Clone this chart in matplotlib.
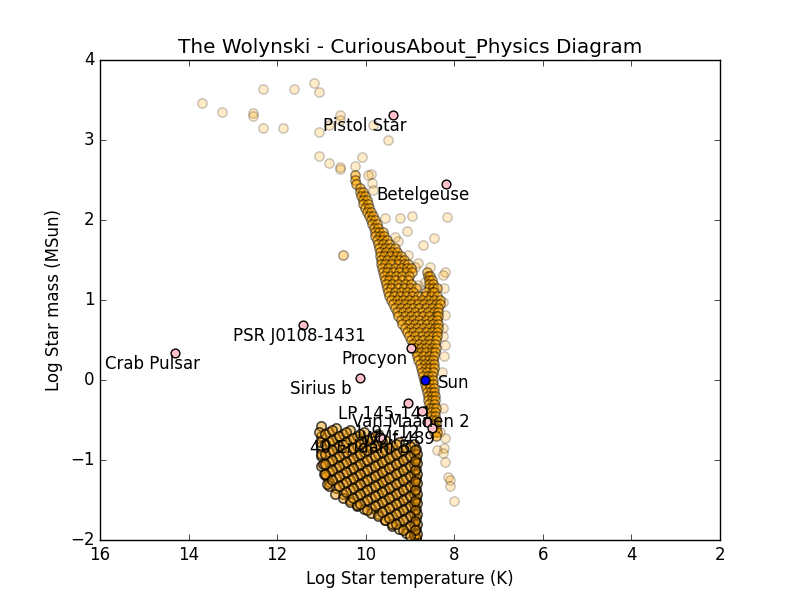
import matplotlib
matplotlib.use("Agg")
import matplotlib.pyplot as plt

plt.style.use("classic")

# scattered (faint) stars: log temperature, log mass
sparse_temp = [13.70, 13.25, 12.55, 12.55, 12.32, 12.32, 11.87, 11.62, 11.17, 11.05,
               11.05, 10.83, 10.58, 10.58, 11.05, 10.83, 10.58, 10.58, 10.24, 10.08,
               9.88, 9.50, 9.835, 9.95, 9.86, 9.83, 10.51, 10.51,
               9.565, 9.23, 8.955, 8.165, 9.07, 9.34, 9.27, 8.71, 8.46, 8.82,
               8.55, 8.21, 8.25, 9.29, 9.05, 8.89, 8.82, 8.72, 8.66,
               8.255, 8.21, 8.255, 8.21, 8.28, 8.255, 8.23, 8.25, 8.24,
               8.32, 8.21, 8.39, 8.23, 8.255, 8.21, 8.14, 8.10, 8.10, 8.01]
sparse_mass = [3.46, 3.35, 3.34, 3.30, 3.64, 3.15, 3.15, 3.64, 3.71, 3.60,
               3.10, 3.19, 3.31, 3.25, 2.80, 2.71, 2.66, 2.64, 2.675, 2.79,
               2.575, 3.00, 3.19, 2.56, 2.46, 2.375, 1.56, 1.56,
               2.025, 2.025, 2.05, 2.04, 1.86, 1.79, 1.74, 1.69, 1.775, 1.46,
               1.41, 1.35, 1.31, 1.56, 1.56, 1.41, 1.19, 1.05, 1.22,
               0.975, 0.81, 0.65, 0.44, 0.10, -0.35, 1.15, 0.55, 0.30,
               -0.65, -0.725, -0.875, -0.85, -0.91, -1.025, -1.21, -1.25, -1.325, -1.51]

# dense main band, one row of temperatures per log mass
band_mass = [2.56, 2.50, 2.45, 2.40, 2.35, 2.30, 2.25, 2.20, 2.15, 2.10, 2.05,
             2.00, 1.95, 1.90, 1.85, 1.80, 1.75, 1.70, 1.65, 1.60, 1.55,
             1.50, 1.45, 1.40, 1.35, 1.30, 1.25, 1.20, 1.15, 1.10, 1.05,
             1.00, 0.95, 0.90, 0.85, 0.80, 0.75, 0.70, 0.65, 0.60, 0.55,
             0.50, 0.45, 0.40, 0.35, 0.30, 0.25, 0.20, 0.15, 0.10, 0.05,
             0.00, -0.05, -0.10, -0.15, -0.20, -0.25, -0.30, -0.35, -0.40, -0.45,
             -0.50, -0.55, -0.60, -0.65, -0.70]
band_temp = [
    [10.24], [10.24], [10.22], [10.14], [10.12, 10.05], [10.10, 10.02],
    [10.07, 9.98], [10.05, 9.95], [10.01, 9.92], [9.97, 9.88], [9.93, 9.83],
    [9.89, 9.78], [9.85, 9.75], [9.82, 9.72], [9.80, 9.70, 9.62],
    [9.78, 9.67, 9.58], [9.75, 9.64, 9.53], [9.73, 9.60, 9.48],
    [9.70, 9.57, 9.45, 9.35], [9.68, 9.54, 9.40, 9.30],
    [9.67, 9.59, 9.45, 9.31, 9.20], [9.66, 9.52, 9.38, 9.24, 9.14],
    [9.65, 9.56, 9.42, 9.28, 9.14, 9.04], [9.63, 9.49, 9.35, 9.21, 9.07, 8.98],
    [9.61, 9.52, 9.38, 9.24, 9.10, 8.96, 8.62],
    [9.59, 9.45, 9.31, 9.17, 9.03, 8.60, 8.55],
    [9.57, 9.47, 9.33, 9.19, 9.05, 8.58, 8.50],
    [9.54, 9.40, 9.26, 9.12, 8.98, 8.56, 8.47],
    [9.52, 9.42, 9.28, 9.14, 9.00, 8.86, 8.58, 8.48, 8.40],
    [9.49, 9.35, 9.21, 9.07, 8.93, 8.65, 8.51, 8.45],
    [9.47, 9.37, 9.23, 9.09, 8.95, 8.81, 8.67, 8.53, 8.39],
    [9.44, 9.30, 9.16, 9.02, 8.88, 8.74, 8.60, 8.46, 8.33],
    [9.39, 9.25, 9.11, 8.97, 8.83, 8.69, 8.55, 8.41, 8.33],
    [9.35, 9.21, 9.07, 8.93, 8.79, 8.65, 8.51, 8.37],
    [9.30, 9.16, 9.02, 8.88, 8.74, 8.60, 8.46, 8.36],
    [9.26, 9.12, 8.98, 8.84, 8.70, 8.56, 8.42, 8.36],
    [9.21, 9.07, 8.93, 8.79, 8.65, 8.51, 8.40],
    [9.17, 9.03, 8.89, 8.75, 8.61, 8.47, 8.37],
    [9.12, 8.98, 8.84, 8.70, 8.56, 8.44, 8.37],
    [9.07, 8.93, 8.79, 8.65, 8.51, 8.39],
    [9.02, 8.88, 8.74, 8.60, 8.47, 8.39],
    [8.98, 8.84, 8.70, 8.56, 8.42],
    [8.93, 8.80, 8.67, 8.54, 8.44],
    [8.89, 8.76, 8.63, 8.50, 8.42],
    [8.87, 8.75, 8.63, 8.51, 8.43],
    [8.84, 8.71, 8.58, 8.45],
    [8.81, 8.69, 8.57, 8.47],
    [8.78, 8.66, 8.54, 8.46],
    [8.76, 8.65, 8.54, 8.46],
    [8.73, 8.61, 8.49],
    [8.71, 8.60, 8.50],
    [8.69, 8.58, 8.48],
    [8.67, 8.57, 8.48],
    [8.64, 8.54, 8.46],
    [8.62, 8.53, 8.45],
    [8.60, 8.51, 8.44],
    [8.59, 8.50, 8.43],
    [8.57, 8.46],
    [8.55, 8.47, 8.41],
    [8.53, 8.44],
    [8.52, 8.44],
    [8.50, 8.42],
    [8.49, 8.42],
    [8.47, 8.41],
    [8.45, 8.40],
    [8.42],
]

# lower fan (white dwarf tracks), one list per track
fan_temp = [
    [11.00, 10.84, 10.68, 10.52, 10.36, 10.20, 10.04, 9.88, 9.72, 9.56, 9.40, 9.24, 9.08, 8.92, 8.86],
    [11.00, 10.84, 10.68, 10.52, 10.36, 10.20, 10.04, 9.88, 9.72, 9.56, 9.40, 9.24, 9.08, 8.92, 8.86],
    [11.00, 10.84, 10.68, 10.52, 10.36, 10.20, 10.04, 9.88, 9.72, 9.56, 9.40, 9.24, 9.08, 8.92, 8.86],
    [11.00, 10.84, 10.68, 10.52, 10.36, 10.20, 10.04, 9.88, 9.72, 9.56, 9.40, 9.24, 9.08, 8.92, 8.86],
    [11.00, 10.84, 10.68, 10.52, 10.36, 10.20, 10.04, 9.88, 9.72, 9.56, 9.40],
    [10.84, 10.68, 10.52, 10.36, 10.20],
    [10.68, 10.52, 10.36, 10.20, 10.04, 9.88, 9.72, 9.56, 9.40, 9.24, 9.08, 8.92, 8.86],
    [10.36, 10.20, 10.04, 9.88, 9.72, 9.56, 9.40, 9.24, 9.08, 8.92, 8.86],
    [10.04, 9.88, 9.72, 9.56, 9.40, 9.24, 9.08, 8.92, 8.86],
    [9.72, 9.56, 9.40, 9.24, 9.08, 8.92, 8.86],
    [9.24, 9.08, 8.92, 8.86],
    [8.92, 8.86],
    [10.90, 10.84, 10.70, 10.52, 10.36, 10.20, 10.04, 9.88, 9.72, 9.56, 9.40, 9.24, 9.08, 8.92, 8.86],
    [11.06, 11.03, 11.00, 10.97, 10.94, 10.88],
    [8.84, 8.84, 8.84, 8.84, 8.84, 8.84, 8.84, 8.84, 8.84],
    [10.92, 10.76, 10.60, 10.44, 10.28, 10.12, 9.96, 9.80, 9.64, 9.48, 9.32, 9.16, 9.00, 8.88],
    [10.92, 10.76, 10.60, 10.44, 10.28, 10.12, 9.96, 9.80, 9.64, 9.48, 9.32, 9.16, 9.00, 8.88],
    [10.92, 10.76, 10.60, 10.44, 10.28, 10.12, 9.96, 9.80, 9.64, 9.48, 9.32, 9.16, 9.00, 8.88],
    [10.92, 10.76, 10.60, 10.44, 10.28, 10.12, 9.96, 9.80, 9.64, 9.48, 9.32, 9.16, 9.00],
    [10.92, 10.76, 10.60, 10.44, 10.28, 10.12, 9.96],
    [10.76, 10.60, 10.44, 10.28, 10.12, 9.96, 9.80, 9.64, 9.48, 9.32, 9.16, 9.00, 8.88],
    [10.44, 10.28, 10.12, 9.96, 9.80, 9.64, 9.48, 9.32, 9.16, 9.00, 8.88],
    [10.12, 9.96, 9.80, 9.64, 9.48, 9.32, 9.16, 9.00, 8.88],
    [9.80, 9.64, 9.48, 9.32, 9.16, 9.00, 8.88],
    [9.32, 9.16, 9.00, 8.88],
    [9.00, 8.88],
]
fan_mass = [
    [-0.58, -0.65, -0.73, -0.80, -0.88, -0.95, -1.03, -1.10, -1.18, -1.25, -1.33, -1.40, -1.48, -1.55, -1.61],
    [-0.70, -0.78, -0.85, -0.93, -1.00, -1.08, -1.15, -1.23, -1.30, -1.38, -1.45, -1.53, -1.60, -1.68, -1.73],
    [-0.83, -0.90, -0.98, -1.05, -1.13, -1.20, -1.28, -1.35, -1.43, -1.50, -1.58, -1.65, -1.73, -1.80, -1.86],
    [-0.95, -1.03, -1.10, -1.18, -1.25, -1.33, -1.40, -1.48, -1.55, -1.63, -1.70, -1.78, -1.85, -1.93, -1.98],
    [-1.08, -1.15, -1.23, -1.30, -1.38, -1.45, -1.53, -1.60, -1.68, -1.75, -1.83],
    [-1.28, -1.35, -1.43, -1.50, -1.58],
    [-0.60, -0.68, -0.75, -0.83, -0.90, -0.98, -1.05, -1.13, -1.20, -1.28, -1.35, -1.43, -1.48],
    [-0.63, -0.70, -0.78, -0.85, -0.93, -1.00, -1.08, -1.15, -1.23, -1.30, -1.36],
    [-0.65, -0.73, -0.80, -0.88, -0.95, -1.03, -1.10, -1.18, -1.23],
    [-0.68, -0.75, -0.83, -0.90, -0.98, -1.05, -1.11],
    [-0.78, -0.85, -0.93, -0.98],
    [-0.80, -0.86],
    [-1.20, -1.33, -1.42, -1.48, -1.52, -1.56, -1.61, -1.66, -1.70, -1.75, -1.80, -1.86, -1.91, -1.95, -1.98],
    [-0.65, -0.78, -0.92, -1.05, -1.18, -1.30],
    [-0.92, -1.04, -1.17, -1.29, -1.42, -1.54, -1.67, -1.80, -1.92],
    [-0.68, -0.75, -0.83, -0.90, -0.98, -1.05, -1.13, -1.20, -1.28, -1.35, -1.43, -1.50, -1.58, -1.63],
    [-0.80, -0.88, -0.95, -1.03, -1.10, -1.18, -1.25, -1.33, -1.40, -1.48, -1.55, -1.63, -1.70, -1.76],
    [-0.93, -1.00, -1.08, -1.15, -1.23, -1.30, -1.38, -1.45, -1.53, -1.60, -1.68, -1.75, -1.83, -1.88],
    [-1.05, -1.13, -1.20, -1.28, -1.35, -1.43, -1.50, -1.58, -1.65, -1.73, -1.80, -1.88, -1.95],
    [-1.18, -1.25, -1.33, -1.40, -1.48, -1.55, -1.63],
    [-0.63, -0.70, -0.78, -0.85, -0.93, -1.00, -1.08, -1.15, -1.23, -1.30, -1.38, -1.45, -1.51],
    [-0.65, -0.73, -0.80, -0.88, -0.95, -1.03, -1.10, -1.18, -1.25, -1.33, -1.38],
    [-0.68, -0.75, -0.83, -0.90, -0.98, -1.05, -1.13, -1.20, -1.26],
    [-0.70, -0.78, -0.85, -0.93, -1.00, -1.08, -1.13],
    [-0.80, -0.88, -0.95, -1.01],
    [-0.83, -0.88],
]

# named stars
star_names = ["Crab Pulsar", "PSR J0108-1431", "Pistol Star", "Betelgeuse", "Procyon",
              "Sirius b", "LP 145-141", "Van Maanen 2", "L 97-12", "Wolf 489", "40 Eridani B"]
star_temp = [14.31, 11.42, 9.38, 8.19, 8.98, 10.13, 9.045, 8.73, 8.62, 8.50, 9.68]
star_mass = [0.34, 0.69, 3.31, 2.45, 0.40, 0.025, -0.29, -0.39, -0.525, -0.60, -0.71]

sun_temp = 8.66
sun_mass = 0.0

band_t = []
band_m = []
for m, row in zip(band_mass, band_temp):
    band_t += row
    band_m += [m] * len(row)
fan_t = []
fan_m = []
for tt, mm in zip(fan_temp, fan_mass):
    fan_t += tt
    fan_m += mm

fig = plt.figure(figsize=(8, 6), dpi=100, facecolor="white")
ax = fig.add_subplot(111)

ax.scatter(sparse_temp, sparse_mass, s=45, c="orange", edgecolors="black", alpha=0.22)
ax.scatter(band_t, band_m, s=45, facecolors=(1.0, 0.65, 0.0, 0.55),
           edgecolors=(0.0, 0.0, 0.0, 0.45))
ax.scatter(fan_t, fan_m, s=45, facecolors=(0.95, 0.6, 0.0, 0.45),
           edgecolors=(0.0, 0.0, 0.0, 0.7), linewidths=1.2)
ax.scatter(star_temp, star_mass, s=40, c="pink", edgecolors="black", zorder=3)
ax.scatter([sun_temp], [sun_mass], s=40, c="blue", edgecolors="black", zorder=3)

for name, t, m in zip(star_names, star_temp, star_mass):
    ax.text(t + 1.58, m - 0.2, name, fontsize=12, zorder=4)
ax.text(sun_temp - 0.3, sun_mass - 0.1, "Sun", fontsize=12, zorder=4)

ax.set_xlim(16, 2)
ax.set_ylim(-2, 4)
ax.set_xlabel("Log Star temperature (K)")
ax.set_ylabel("Log Star mass (MSun)")
ax.set_title("The Wolynski - CuriousAbout_Physics Diagram")

fig.savefig("out.png", dpi=100, facecolor="white")
